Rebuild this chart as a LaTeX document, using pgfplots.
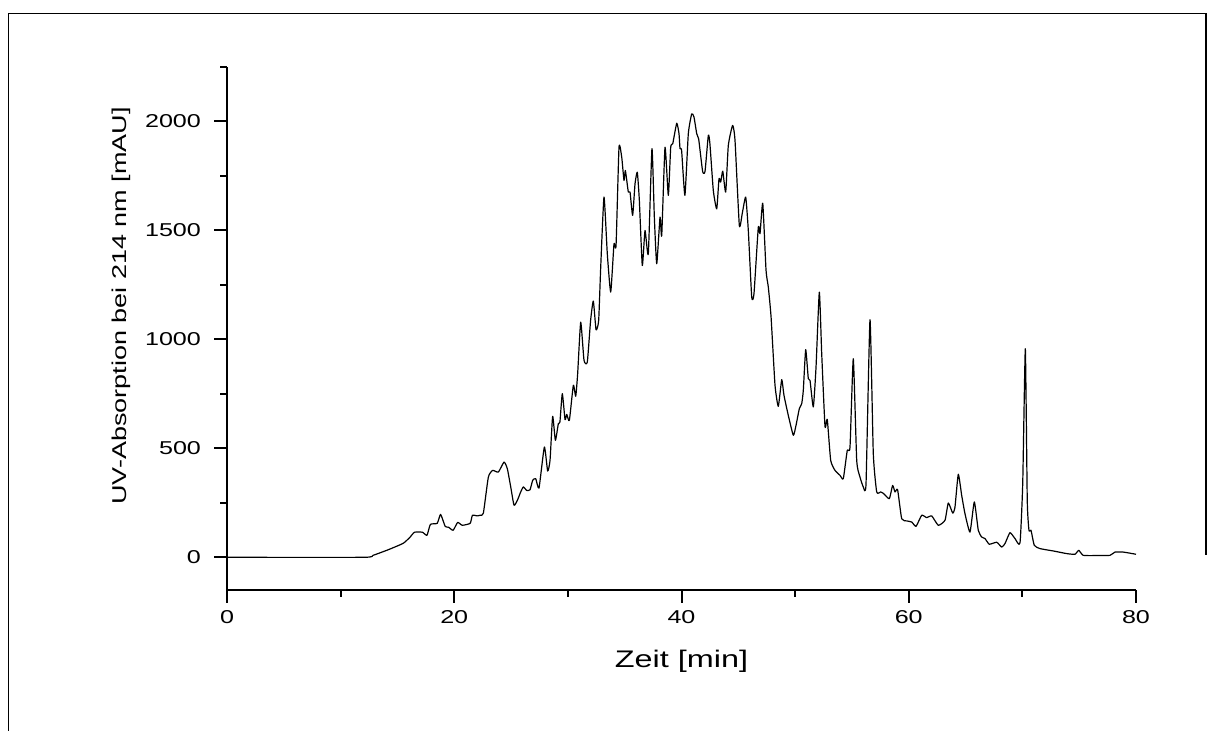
\documentclass[border=0pt]{standalone}
\usepackage{fontspec}
\setmainfont{Liberation Sans}[FakeStretch=1.35]
\usepackage{pgfplots}
\usepackage{pgfplotstable}
\pgfplotsset{compat=1.18}

% UV trace of the HPLC run: time [min], absorption [mAU]
\pgfplotstableread{
t v
0 0
12.0 0
12.85 9
14.2 35
15.5 64
16.1 92
16.5 115
17.2 115
17.6 101
17.9 151
18.5 156
18.8 197
19.2 142
19.5 138
19.9 124
20.3 160
20.7 147
21.4 156
21.6 193
22.0 190
22.27 193
22.56 202
23.0 368
23.38 399
23.88 391
24.38 437
24.67 407
24.97 323
25.26 239
25.55 261
25.85 300
26.08 323
26.37 307
26.67 310
26.9 353
27.17 361
27.46 318
27.93 506
28.22 396
28.43 445
28.66 647
28.9 537
29.16 613
29.3 621
29.51 751
29.75 632
29.9 656
30.13 628
30.48 789
30.69 739
30.86 842
31.13 1079
31.42 904
31.71 896
32.0 1087
32.24 1176
32.48 1044
32.71 1087
32.89 1332
33.18 1653
33.47 1393
33.77 1217
34.06 1439
34.24 1431
34.5 1882
34.74 1836
34.94 1729
35.06 1775
35.32 1676
35.47 1676
35.7 1569
35.91 1714
36.11 1767
36.29 1638
36.55 1339
36.79 1500
37.08 1393
37.4 1875
37.61 1561
37.82 1347
38.11 1561
38.26 1477
38.55 1882
38.84 1661
39.05 1882
39.23 1898
39.58 1992
39.78 1944
39.87 1875
40.01 1867
40.3 1661
40.6 1944
40.9 2035
41.1 2020
41.34 1944
41.51 1920
41.86 1771
42.07 1771
42.36 1936
42.5 1898
42.8 1683
43.1 1599
43.3 1737
43.45 1722
43.63 1772
43.89 1676
44.12 1890
44.5 1982
44.71 1913
45.09 1523
45.35 1579
45.65 1653
45.88 1500
46.18 1194
46.38 1210
46.76 1515
46.91 1485
47.15 1625
47.44 1317
47.64 1240
47.88 1105
48.23 790
48.52 693
48.82 815
49.02 743
49.4 651
49.84 560
50.08 606
50.37 682
50.58 705
50.72 766
50.93 953
51.16 820
51.31 812
51.6 690
51.84 873
52.13 1217
52.34 934
52.63 601
52.83 632
53.13 445
53.51 399
53.95 376
54.24 361
54.59 491
54.83 506
55.12 911
55.42 445
55.71 368
56.0 323
56.24 338
56.59 1090
56.88 476
57.18 300
57.53 300
57.8 292
58.29 269
58.58 330
58.79 300
59.02 310
59.38 177
59.82 167
60.26 162
60.64 142
61.14 193
61.58 182
62.02 190
62.6 147
63.19 170
63.48 249
63.87 203
64.07 231
64.36 381
64.66 284
64.95 200
65.39 116
65.77 254
66.12 124
66.42 93
66.71 86
67.09 60
67.74 69
68.18 47
68.47 63
68.91 113
69.35 86
69.79 66
70.03 338
70.26 957
70.43 261
70.58 124
70.76 124
71.05 55
71.55 40
72.73 29
73.9 17
74.63 14
74.96 32
75.36 9
76.54 8
77.71 9
78.15 24
78.88 24
80.0 14
}\chrom

\begin{document}
\begin{tikzpicture}
\path[use as bounding box] (0,0) rectangle (607pt,365.5pt);
% page frame
\draw[line width=0.8pt] (4.25pt,-5pt) -- (4.25pt,358.75pt) -- (603pt,358.75pt) -- (603pt,88pt);
\begin{axis}[
  at={(113.5pt,70.5pt)}, anchor=south west,
  scale only axis, width=454.5pt, height=261.5pt,
  xmin=0, xmax=80, ymin=-150, ymax=2250,
  axis x line*=bottom, axis y line*=left,
  axis line style={line width=1pt},
  xtick={0,20,...,80}, minor xtick={10,30,50,70},
  ytick={0,500,...,2000}, minor ytick={250,750,...,2250},
  tick align=outside, major tick length=6.5pt, minor tick length=3.5pt,
  every tick/.style={black, line width=1pt},
  scaled ticks=false,
  /pgf/number format/1000 sep={},
  /pgf/number format/assume math mode=true,
  ticklabel style={font=\fontsize{9.3}{11}\selectfont},
  yticklabel style={xshift=-3pt},
  xlabel={Zeit [min]},
  ylabel={UV-Absorption bei 214 nm [mAU]},
  xlabel style={at={(axis description cs:0.5,-0.1358)}, anchor=center, font=\fontsize{12}{14}\selectfont},
  ylabel style={at={(axis description cs:-0.1166,0.543)}, anchor=center, font=\fontsize{10}{12}\selectfont},
]
\addplot[black, line width=0.6pt, line join=round, smooth, tension=0.3] table[x=t, y=v] {\chrom};
\end{axis}
\end{tikzpicture}
\end{document}
